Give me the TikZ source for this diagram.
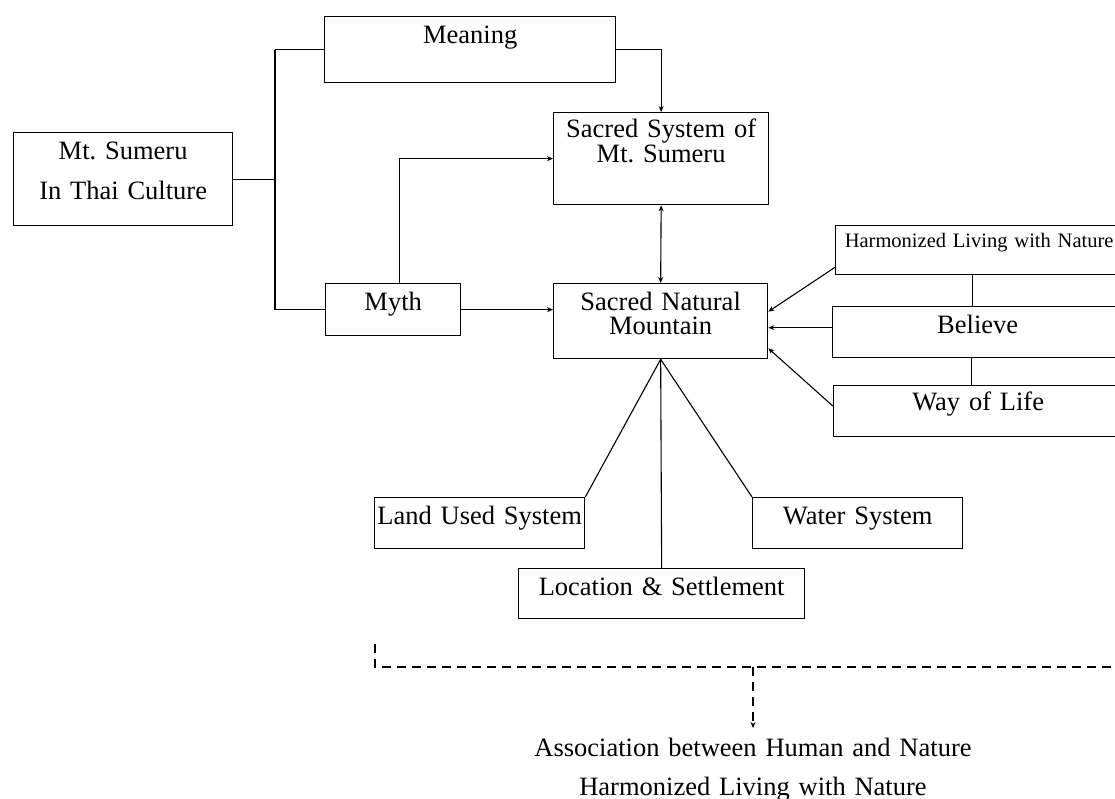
\documentclass[tikz,border=0pt]{standalone}
\usepackage{fontspec}
\setmainfont{Liberation Serif}
\usetikzlibrary{arrows.meta,calc}
\begin{document}
\begin{tikzpicture}[x=1pt,y=-1pt,line width=1.1pt,
  tip/.style={-{Stealth[length=6pt,width=5pt]}},
  twotip/.style={{Stealth[length=6pt,width=5pt]}-{Stealth[length=6pt,width=5pt]}},
  box/.style={draw,line width=1.3pt,rectangle,inner sep=0pt,anchor=north west,
    align=center,text height=27pt,font=\fontsize{26.5}{40}\selectfont},
  dashline/.style={dash pattern=on 9pt off 6pt,line width=1.3pt}]
\useasboundingbox (0,0) rectangle (1115,798);
\fill[white] (0,0) rectangle (1115,798);
\clip (0,0) rectangle (1115,798);

% boxes
\node[box,text width=219pt,text depth=66pt] (mt) at (13,132) {Mt.\ Sumeru\\In Thai Culture};
\node[box,text width=291pt,text depth=39pt] (meaning) at (324,16) {Meaning};
\node[box,text width=215pt,text height=25pt,text depth=67pt,
  font=\fontsize{26.5}{25}\selectfont] (system) at (553,112) {Sacred System of\\Mt.\ Sumeru};
\node[box,text width=135pt,text depth=25pt] (myth) at (325,283) {Myth};
\node[box,text width=214pt,text depth=48pt,
  font=\fontsize{26.5}{24}\selectfont] (natural) at (553,283) {Sacred Natural\\Mountain};
\node[box,text width=287pt,text height=22pt,text depth=27pt,
  font=\fontsize{20.5}{24}\selectfont] (harm) at (835,225) {Harmonized Living with Nature};
\node[box,text width=290pt,text depth=24pt] (believe) at (832,306) {Believe};
\node[box,text width=289pt,text height=25pt,text depth=26pt] (way) at (833,385) {Way of Life};
\node[box,text width=210pt,text depth=24pt] (land) at (374,497) {Land Used System};
\node[box,text width=210pt,text depth=24pt] (water) at (752,497) {Water System};
\node[box,text width=286pt,text depth=23pt] (loc) at (518,568) {Location \& Settlement};
\node[box,draw=none,anchor=north,text width=520pt,text height=28pt,text depth=50pt,
  font=\fontsize{26.5}{39}\selectfont]
  (assoc) at (753,728) {Association between Human and Nature\\Harmonized Living with Nature};

% bracket from Mt. Sumeru to Meaning and Myth
\coordinate (jx) at (275,0);
\draw (jx |- meaning.west) -- (jx |- myth.west);
\draw (mt.east) -- (jx |- mt.east);
\draw (jx |- meaning.west) -- (meaning.west);
\draw (jx |- myth.west) -- (myth.west);

% arrows toward the sacred system and the mountain
\draw[tip] (meaning.east) -| (system.north);
\draw[tip] ([xshift=6pt]myth.north) |- (system.west);
\draw[tip] (myth.east) -- (myth.east -| natural.west);
\draw[twotip] (system.south) -- (natural.north);

% right-hand column
\draw[tip] ($(harm.south west)+(0,-8)$) -- ($(natural.east)+(0,-9.5)$);
\draw[tip] ($(believe.west)+(0,-4.5)$) coordinate (bw) -- (bw -| natural.east);
\draw[tip] ($(way.west)+(0,-5)$) -- ($(natural.south east)+(0,-11)$);
\draw ($(harm.south)+(-7,0)$) coordinate (hb) -- (hb |- believe.north);
\draw ($(believe.south)+(-6,0)$) coordinate (bb) -- (bb |- way.north);

% fan below the mountain
\draw (natural.south) -- (land.north east);
\draw (natural.south) -- (loc.north);
\draw (natural.south) -- (water.north west);

% dashed summary bracket
\coordinate (dl) at (375,644);
\coordinate (dr) at (1120,667);
\draw[dashline] (dl) |- (dr);
\draw[dashline,tip] (assoc.north |- dr) -- (assoc.north);
\end{tikzpicture}
\end{document}
